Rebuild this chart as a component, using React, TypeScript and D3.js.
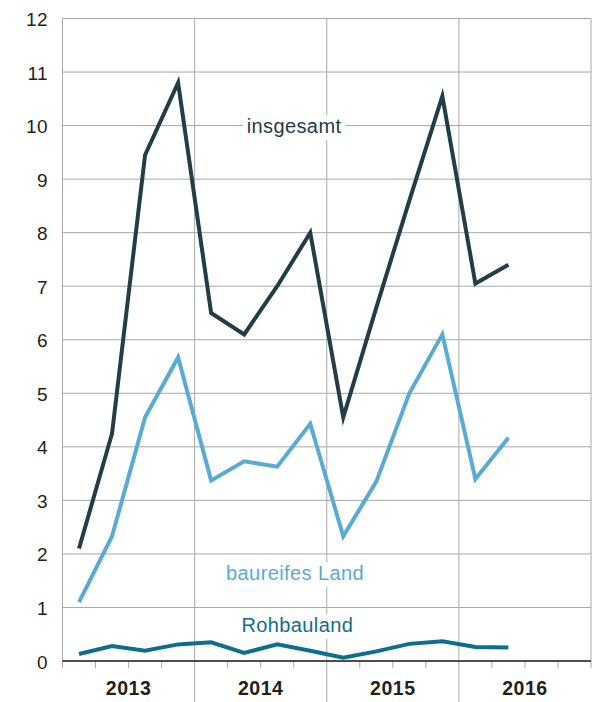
import React from "react";
import * as d3 from "d3";

// quarterly values, 2013 Q1 .. 2016 Q2
const years = ["2013", "2014", "2015", "2016"];
const yTicks = [0, 1, 2, 3, 4, 5, 6, 7, 8, 9, 10, 11, 12];
const insgesamt = [2.1, 4.25, 9.45, 10.8, 6.5, 6.1, 7.0, 8.0, 4.55, 6.6, 8.6, 10.55, 7.05, 7.4];
const baureifesLand = [1.1, 2.33, 4.55, 5.67, 3.37, 3.73, 3.63, 4.43, 2.33, 3.35, 5.0, 6.1, 3.4, 4.17];
const rohbauland = [0.13, 0.28, 0.19, 0.31, 0.35, 0.15, 0.31, 0.19, 0.06, 0.18, 0.32, 0.37, 0.26, 0.25];

const series = [
  { name: "insgesamt", values: insgesamt, color: "#213d48", label: { q: 7.01, v: 9.855 } },
  { name: "baureifes Land", values: baureifesLand, color: "#5aaad6", label: { q: 7.04, v: 1.512 } },
  { name: "Rohbauland", values: rohbauland, color: "#0e6e8c", label: { q: 7.11, v: 0.541 } },
];

const W = 596;
const H = 702;
const left = 62.5;
const right = 591;
const top = 18.5;
const bottom = 661;

const App = () => {
  const x = d3.scaleLinear().domain([0, 16]).range([left, right]);
  const y = d3.scaleLinear().domain([0, 12]).range([bottom, top]);
  const line = d3
    .line<number>()
    .x((_, i) => x(i + 0.5))
    .y((d) => y(d));

  const font = "'Liberation Sans', Arial, Helvetica, sans-serif";

  return (
    <svg width={W} height={H} style={{ position: "absolute", left: 0, top: 0 }} fontFamily={font}>
      <rect width={W} height={H} fill="#fff" />
      {/* horizontal grid */}
      {yTicks.map((t) => (
        <line key={"h" + t} x1={left} x2={right} y1={y(t)} y2={y(t)} stroke="#a8a8a8" strokeWidth={1} />
      ))}
      {/* year separators */}
      {d3.range(0, 17, 4).map((q) => (
        <line
          key={"v" + q}
          x1={x(q)}
          x2={x(q)}
          y1={top}
          y2={q === 0 || q === 16 ? bottom + 7 : H}
          stroke="#a8a8a8"
          strokeWidth={1}
        />
      ))}
      {/* quarter ticks */}
      {d3.range(1, 16).filter((q) => q % 4 !== 0).map((q) => (
        <line key={"t" + q} x1={x(q)} x2={x(q)} y1={bottom} y2={bottom + 7} stroke="#a8a8a8" strokeWidth={1} />
      ))}
      <line x1={left} x2={right} y1={y(0)} y2={y(0)} stroke="#222" strokeWidth={1.5} />
      {/* y labels */}
      {yTicks.map((t) => (
        <text key={"yl" + t} x={48} y={y(t) + 7.5} textAnchor="end" fontSize={19} letterSpacing={0.4} fill="#231f20">
          {t}
        </text>
      ))}
      {/* year labels */}
      {years.map((yr, i) => (
        <text
          key={yr}
          x={x(i * 4 + 2)}
          y={695}
          textAnchor="middle"
          fontSize={19.5}
          fontWeight="bold"
          letterSpacing={0.5}
          fill="#231f20"
        >
          {yr}
        </text>
      ))}
      {/* series label backgrounds */}
      {series.map((s) => {
        const w = s.name.length * 10.5 + 8;
        return (
          <rect key={"bg" + s.name} x={x(s.label.q) - w / 2} y={y(s.label.v) - 18} width={w} height={25} fill="#fff" />
        );
      })}
      {series.map((s) => (
        <path
          key={s.name}
          d={line(s.values) || ""}
          fill="none"
          stroke={s.color}
          strokeWidth={4}
          strokeLinejoin="miter"
          strokeMiterlimit={10}
        />
      ))}
      {series.map((s) => (
        <text
          key={"lb" + s.name}
          x={x(s.label.q)}
          y={y(s.label.v)}
          textAnchor="middle"
          fontSize={20}
          letterSpacing={0.4}
          fill={s.color}
        >
          {s.name}
        </text>
      ))}
    </svg>
  );
};

export default App;
